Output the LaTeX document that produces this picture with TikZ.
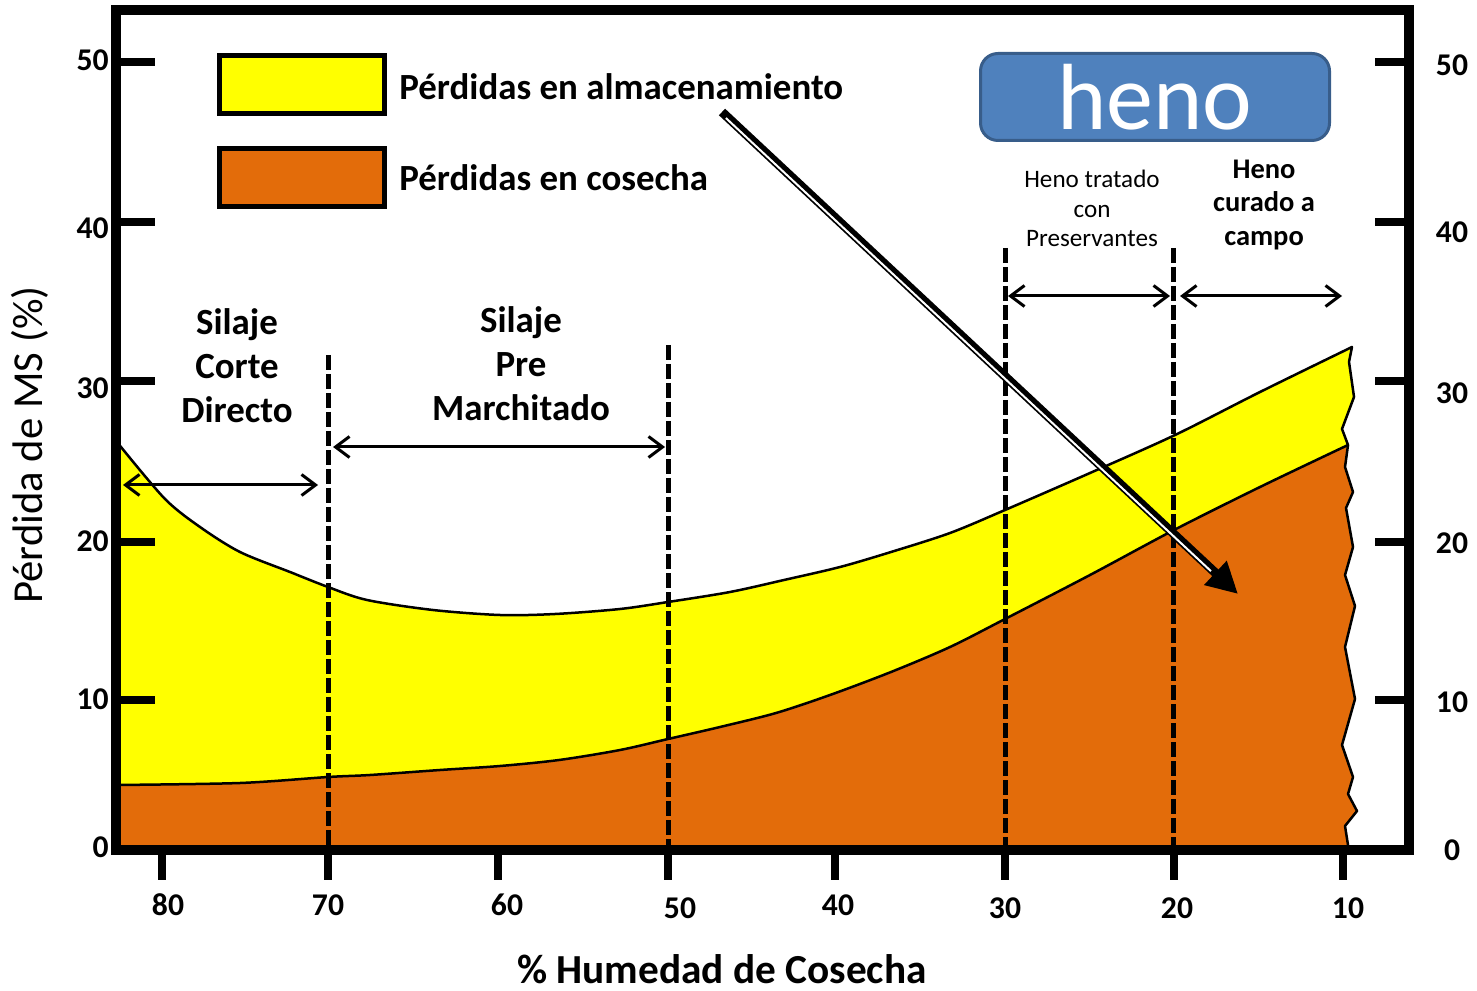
\documentclass[tikz,border=0pt]{standalone}
\usepackage{fontspec}
\setmainfont{Carlito}
\usepackage{tikz}
\usetikzlibrary{arrows.meta,positioning,calc}

\definecolor{almac}{HTML}{FFFF00}
\definecolor{cosecha}{HTML}{E36C0A}
\definecolor{henofill}{HTML}{4F81BD}
\definecolor{henoedge}{HTML}{385D8A}

\tikzset{
  frameline/.style={line width=0.2cm, line join=miter},
  tickmark/.style={line width=0.16cm},
  curveline/.style={line width=0.05cm, line join=round},
  cutline/.style={line width=0.1cm, dash pattern=on 0.3cm off 0.08cm},
  spanarrow/.style={line width=0.06cm,
    {Straight Barb[length=0.28cm,width=0.42cm]}-{Straight Barb[length=0.28cm,width=0.42cm]}},
  ticklabel/.style={font=\fontsize{18}{20}\selectfont\bfseries, inner sep=0pt},
  axistitle/.style={font=\fontsize{23.5}{26}\selectfont\bfseries, inner sep=0pt},
  legbox/.style={draw, line width=0.1cm, minimum width=3.3cm, minimum height=1.16cm, inner sep=0pt},
  legtext/.style={font=\fontsize{21}{25}\selectfont\bfseries, inner sep=0pt},
  zonetext/.style={align=center, font=\fontsize{21}{25}\selectfont\bfseries, inner sep=0pt},
  prestext/.style={align=center, font=\fontsize{14.3}{17}\selectfont, inner sep=0pt},
  campotext/.style={align=center, font=\fontsize{16.2}{19.3}\selectfont\bfseries, inner sep=0pt},
  henobox/.style={draw=henoedge, fill=henofill, line width=0.06cm, rounded corners=0.35cm,
    minimum width=6.98cm, minimum height=1.74cm, text=white, font=\fontsize{53.5}{60}\selectfont}
}

\begin{document}
\begin{tikzpicture}
\useasboundingbox (0,0) rectangle (29.54,19.8);

% area between the two curves (almacenamiento)
\path[save path=\yellowarea] (2.32,2.8) -- (2.32,10.98)
  -- plot[smooth] coordinates {(2.42,10.86) (3.30,9.82) (4.00,9.26) (4.80,8.76) (5.80,8.36)
     (6.56,8.06) (7.34,7.80) (8.66,7.60) (10.00,7.50) (11.10,7.52) (12.40,7.62) (13.36,7.76)
     (14.60,7.96) (15.68,8.20) (16.80,8.46) (17.82,8.76) (19.00,9.14) (20.10,9.60)
     (21.80,10.34) (23.50,11.10) (25.20,11.96) (27.04,12.86)}
  -- (26.98,12.56) -- (27.08,11.86) -- (26.84,11.22) -- (26.96,10.90) -- (26.90,10.46)
  -- (27.06,9.96) -- (26.92,9.64) -- (27.06,8.86) -- (26.90,8.30) -- (27.10,7.68)
  -- (26.90,6.86) -- (27.10,5.82) -- (26.84,4.90) -- (27.06,4.26) -- (26.96,3.92)
  -- (27.14,3.58) -- (26.90,3.28) -- (26.96,2.90) -- (26.96,2.8) -- cycle;
\fill[almac, use path=\yellowarea];

% cosecha
\begin{scope}
  \clip[use path=\yellowarea];
  \filldraw[fill=cosecha, curveline] (2.32,2.8) -- (2.32,4.10)
    -- plot[smooth] coordinates {(2.32,4.10) (4.80,4.14) (6.56,4.26) (7.40,4.30) (8.80,4.40)
       (10.00,4.48) (11.18,4.60) (12.40,4.80) (13.36,5.02) (14.40,5.26) (15.52,5.54)
       (16.60,5.90) (17.82,6.36) (19.00,6.86) (20.10,7.42) (21.80,8.30) (23.48,9.20)
       (25.20,10.06) (26.96,10.90)}
    -- (28,10.90) -- (28,2.8) -- cycle;
\end{scope}
\draw[curveline, use path=\yellowarea];

% limits
\foreach \x/\t in {6.56/12.70,13.36/12.90,20.10/14.84,23.47/14.84}
  \draw[cutline] (\x,\t) -- (\x,2.8);

% frame and ticks
\draw[frameline] (2.32,2.8) rectangle (28.18,19.6);
\foreach \y in {18.56,15.36,12.18,8.96,5.80}
{
  \draw[tickmark] (2.32,\y) -- (3.10,\y);
  \draw[tickmark] (27.50,\y) -- (28.18,\y);
}
\foreach \x in {3.24,6.56,9.96,13.36,16.70,20.10,23.48,26.86}
  \draw[tickmark] (\x,2.8) -- (\x,2.2);

\foreach \v/\y in {50/18.60,40/15.24,30/12.04,20/8.98,10/5.82,0/2.86}
  \node[ticklabel, anchor=east] (yl\v) at (2.18,\y) {\v};
\foreach \v/\y in {50/18.50,40/15.16,30/11.94,20/8.94,10/5.76,0/2.80}
  \node[ticklabel] (yr\v) at (29.04,\y) {\v};
\foreach \h/\x/\y in {80/3.36/1.70,70/6.56/1.70,60/10.14/1.70,50/13.60/1.64,
                      40/16.76/1.70,30/20.10/1.64,20/23.54/1.64,10/26.96/1.64}
  \node[ticklabel] (xl\h) at (\x,\y) {\h};

\node[axistitle] (xTitle) at (14.44,0.42) {\% Humedad de Cosecha};
\node[axistitle, font=\fontsize{24.3}{27}\selectfont, rotate=90] (yTitle) at (0.60,10.90) {Pérdida de MS (\%)};

% spans
\coordinate (cdL) at (2.46,10.10);  \coordinate (cdR) at (6.36,10.10);
\coordinate (pmL) at (6.66,10.86);  \coordinate (pmR) at (13.30,10.86);
\coordinate (ptL) at (20.16,13.88); \coordinate (ptR) at (23.40,13.88);
\coordinate (ccL) at (23.60,13.88); \coordinate (ccR) at (26.84,13.88);
\draw[spanarrow] (cdL) -- (cdR);
\draw[spanarrow] (pmL) -- (pmR);
\draw[spanarrow] (ptL) -- (ptR);
\draw[spanarrow] (ccL) -- (ccR);

\node[zonetext] (cdTxt) at (4.74,12.48) {Silaje\\Corte\\Directo};
\node[zonetext] (pmTxt) at (10.42,12.52) {Silaje\\Pre\\Marchitado};
\node[prestext] (ptTxt) at (21.84,15.63) {Heno tratado\\con\\Preservantes};
\node[campotext] (ccTxt) at (25.28,15.70) {Heno\\curado a\\campo};

% legend
\node[legbox, fill=almac] (legAlm) at (6.04,18.11) {};
\node[legtext, right=0.24cm of legAlm, yshift=-0.05cm] (legAlmTxt) {Pérdidas en almacenamiento};
\node[legbox, fill=cosecha] (legCos) at (6.04,16.25) {};
\node[legtext, right=0.24cm of legCos] (legCosTxt) {Pérdidas en cosecha};

\node[henobox] (henoTag) at (23.10,17.86) {heno};

% pointer
\coordinate (almTip) at (14.44,17.56);
\coordinate (henoTip) at (24.76,7.92);
\draw[line width=0.18cm, -{Triangle[length=0.62cm,width=0.62cm]}] (almTip) -- (henoTip);
\draw[white, line width=0.04cm] ($(almTip)!0.01!(henoTip)+(-0.025,-0.025)$) -- ($(almTip)!0.95!(henoTip)+(-0.025,-0.025)$);

\end{tikzpicture}
\end{document}
